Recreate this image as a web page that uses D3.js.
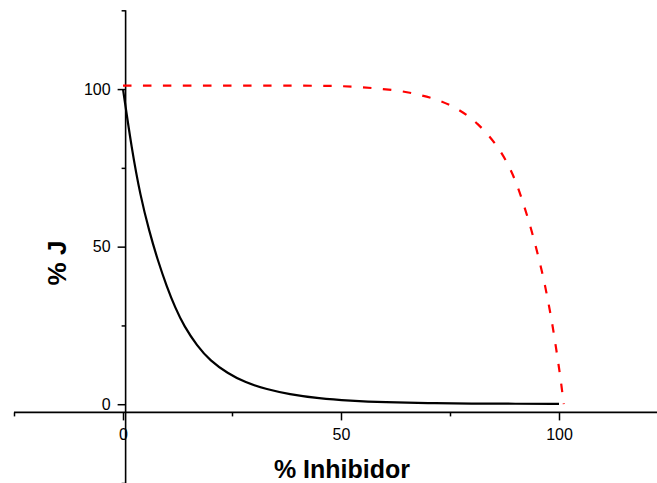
<!DOCTYPE html>
<html>
<head>
<meta charset="utf-8">
<script src="https://cdn.jsdelivr.net/npm/d3@7"></script>
<style>
  html, body { margin: 0; padding: 0; background: #fff; }
  svg { display: block; }
  text { font-family: "Liberation Sans", Arial, Helvetica, sans-serif; fill: #000; }
</style>
</head>
<body>
<svg id="chart" width="657" height="483"></svg>
<script>
// Flux (% J) versus inhibitor concentration for two pathway responses
const inhibitorA = [0, 2, 4, 6, 8, 10, 12, 14, 17, 20, 24, 28, 33, 38, 45, 52, 60, 70, 80, 90, 100];
const fluxA      = [100, 81, 66, 55, 45.5, 37.5, 30.5, 24.8, 18.5, 13.8, 9.8, 6.9, 4.7, 3.2, 1.8, 1.1, 0.6, 0.35, 0.2, 0.15, 0.1];

const inhibitorB = [0, 20, 40, 50, 55, 59, 64, 68, 72.7, 77.3, 81.4, 85.6, 88.4, 90.3, 91.8, 93.25, 94.5, 95.65, 96.7, 97.6, 98.4, 99.1, 99.8, 100.4, 101.1];
const fluxB      = [101.1, 101.1, 101.1, 101, 100.6, 100.1, 99.4, 98.2, 96.5, 93.4, 89.2, 82.6, 76.1, 70, 63.8, 57.4, 51, 44.7, 38.4, 32, 26, 19.9, 13.5, 7.7, 0];

const xMajor = [0, 50, 100];
const xMinor = [-25, 25, 75, 125];
const yMajor = [0, 50, 100];
const yMinor = [-25, 25, 75, 125];

const xTitle = "% Inhibidor";
const yTitle = "% J";

const svg = d3.select("#chart");

const x = d3.scaleLinear().domain([-25, 125]).range([14, 668]);
const y = d3.scaleLinear().domain([-25, 125]).range([483, 10.3]);

// axes cross slightly off the origin
const xAxisAt = -2.6;
const yAxisAt = 0.6;

const gx = svg.append("g").attr("transform", `translate(0,${y(xAxisAt)})`);
gx.append("g")
  .call(d3.axisBottom(x).tickValues(xMajor).tickSize(8).tickPadding(8).tickFormat(d3.format("d")))
  .call(g => g.select(".domain").remove());
gx.append("g")
  .call(d3.axisBottom(x).tickValues(xMinor).tickSize(4).tickFormat(""))
  .call(g => g.select(".domain").remove());
gx.append("line")
  .attr("x1", x(-25)).attr("x2", x(125))
  .attr("stroke", "#000").attr("stroke-width", 1.6);

const gy = svg.append("g").attr("transform", `translate(${x(yAxisAt)},0)`);
gy.append("g")
  .call(d3.axisLeft(y).tickValues(yMajor).tickSize(8).tickPadding(7).tickFormat(d3.format("d")))
  .call(g => g.select(".domain").remove());
gy.append("g")
  .call(d3.axisLeft(y).tickValues(yMinor).tickSize(4).tickFormat(""))
  .call(g => g.select(".domain").remove());
gy.append("line")
  .attr("y1", y(-25)).attr("y2", y(125))
  .attr("stroke", "#000").attr("stroke-width", 1.6);

svg.selectAll(".tick line").attr("stroke", "#000").attr("stroke-width", 1.5);
svg.selectAll(".tick text")
  .style("font-family", '"Liberation Sans", Arial, sans-serif')
  .style("font-size", "16px")
  .attr("fill", "#000");

const line = d3.line()
  .x(d => x(d[0]))
  .y(d => y(d[1]))
  .curve(d3.curveBasis);

svg.append("path")
  .datum(d3.zip(inhibitorA, fluxA))
  .attr("d", line)
  .attr("fill", "none")
  .attr("stroke", "#000")
  .attr("stroke-width", 2.2);

svg.append("path")
  .datum(d3.zip(inhibitorB, fluxB))
  .attr("d", line)
  .attr("fill", "none")
  .attr("stroke", "#ff0000")
  .attr("stroke-width", 2.2)
  .attr("stroke-dasharray", "8.5,11.5");

svg.append("text")
  .attr("x", 342)
  .attr("y", 477.5)
  .attr("text-anchor", "middle")
  .style("font-size", "25px")
  .style("font-weight", "bold")
  .text(xTitle);

svg.append("text")
  .attr("transform", "translate(66,263) rotate(-90)")
  .attr("text-anchor", "middle")
  .style("font-size", "26px")
  .style("font-weight", "bold")
  .text(yTitle);
</script>
</body>
</html>
